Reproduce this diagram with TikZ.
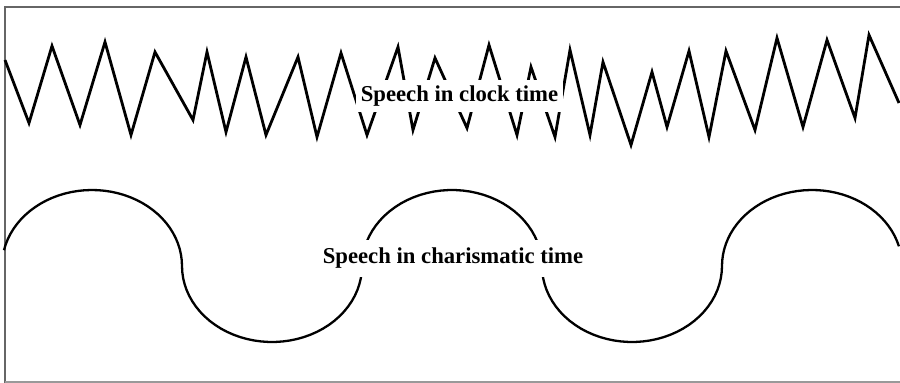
\documentclass[tikz,border=0pt]{standalone}
\usepackage{fontspec}
\setmainfont{Liberation Serif}
\begin{document}
\begin{tikzpicture}[x=1pt, y=-1pt, frame/.style={draw=black!60, line width=1.4pt}, zig/.style={line width=2.8pt, line join=miter}, lobe/.style={line width=2.3pt}, caption/.style={fill=white, inner xsep=5pt, inner ysep=0pt, font=\fontsize{22.7}{27}\selectfont\bfseries}]
\useasboundingbox (0,0) rectangle (900,383);
% frame
\draw[frame] (900,7) -- (5,7) -- (5,383);
\draw[frame, draw=black!40] (5,382) -- (900,382);
% clock time
\draw[zig] (5,60) \foreach \x/\y in {29/123, 52/46, 80/125, 105/42, 131/135, 155/52, 193/120, 207/52, 226/132, 246/57, 266/135, 298/57, 317/137, 341/53, 367/135, 398/47, 413/130, 435/58, 467/128, 489/45, 517/135, 531/67, 555/137, 570/50, 590/135, 603/62, 631/145, 652/72, 667/127, 689/51, 709/137, 726/51, 755/130, 777/38, 803/127, 827/40, 855/118, 869/35, 899/103} { -- (\x,\y) };
% charismatic time
\draw[lobe] plot[domain=12:180, samples=40] ({92-90*cos(\x)}, {266-76*sin(\x)})
  -- plot[domain=0:180, samples=40] ({272-90*cos(\x)}, {266+76*sin(\x)})
  -- plot[domain=0:180, samples=40] ({452-90*cos(\x)}, {266-76*sin(\x)})
  -- plot[domain=0:180, samples=40] ({632-90*cos(\x)}, {266+76*sin(\x)})
  -- plot[domain=0:165, samples=40] ({812-90*cos(\x)}, {266-76*sin(\x)});
\node[caption, minimum height=32pt] (clock) at (459.5,96) {Speech in clock time};
\node[caption, minimum height=37pt] (charisma) at (453,258.5) {Speech in charismatic time};
\end{tikzpicture}
\end{document}
